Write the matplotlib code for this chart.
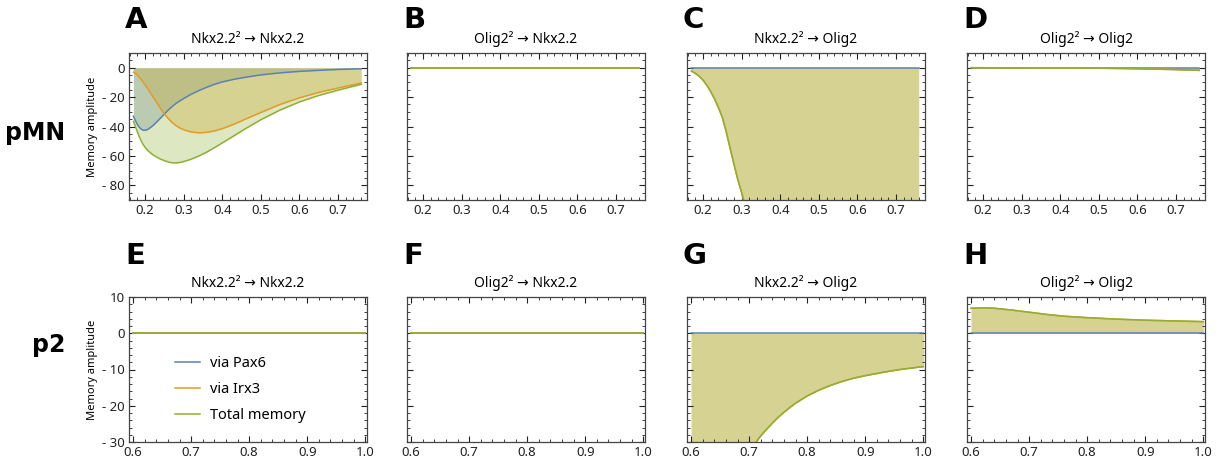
import numpy as np
import matplotlib
matplotlib.use("Agg")
import matplotlib.pyplot as plt
from matplotlib.ticker import FixedLocator, MultipleLocator, FuncFormatter

plt.rcParams['font.family'] = ['Noto Sans', 'DejaVu Sans']

## colours (Mathematica default palette)
c_pax6 = '#5e81b5'
c_irx3 = '#e19c24'
c_total = '#8fb032'

labels = ['via Pax6', 'via Irx3', 'Total memory']
titles = ['Nkx2.2² → Nkx2.2', 'Olig2² → Nkx2.2', 'Nkx2.2² → Olig2', 'Olig2² → Olig2']
letters_top = ['A', 'B', 'C', 'D']
letters_bot = ['E', 'F', 'G', 'H']

## pMN row
# A
xa = [0.17, 0.175, 0.18, 0.185, 0.19, 0.195, 0.20, 0.205, 0.21, 0.22, 0.23, 0.24,
      0.25, 0.26, 0.27, 0.28, 0.29, 0.30, 0.32, 0.34, 0.36, 0.38, 0.40, 0.43,
      0.46, 0.50, 0.55, 0.60, 0.65, 0.70, 0.76]
a_pax6 = [-33, -36, -38.5, -40.5, -41.8, -42.5, -42.6, -42.2, -41.5, -39.5, -37, -34.3,
          -31.5, -28.8, -26.5, -24.3, -22.6, -21, -18, -15.5, -13.3, -11.3, -9.7, -7.9,
          -6.5, -4.9, -3.5, -2.5, -1.8, -1.2, -0.7]
a_irx3 = [-3, -3.9, -5, -6.3, -8, -9.7, -11.5, -13.5, -15.5, -19.5, -23.5, -27.6,
          -31.5, -34.5, -37.2, -39.4, -41, -42.2, -43.8, -44.3, -44, -43, -41.5, -38.5,
          -35, -30.5, -25, -20.5, -16.8, -13.8, -10.5]
a_total = [-36.5, -40, -43.5, -46.8, -49.8, -52.2, -54.1, -55.7, -57, -59.2, -60.8, -62.2,
           -63.2, -64.1, -64.7, -64.8, -64.5, -63.9, -62.2, -60, -57.4, -54.4, -51.2, -46.4,
           -41.5, -35.4, -28.8, -23.3, -18.9, -15.3, -11.3]
# B
xb = [0.17, 0.76]
b_pax6 = [0, 0]
b_irx3 = [0, 0]
b_total = [0, 0]
# C
xc = [0.17, 0.18, 0.19, 0.20, 0.21, 0.22, 0.23, 0.24, 0.25, 0.26, 0.27, 0.28,
      0.29, 0.30, 0.31, 0.33, 0.40, 0.50, 0.76]
c_pax6_v = [0] * len(xc)
c_total_v = [-2.3, -3.8, -5.8, -8.5, -12, -16.3, -21.3, -27.2, -33.8, -43.5, -54.5,
             -65.5, -76, -85, -95, -120, -200, -300, -500]
c_irx3_v = list(c_total_v)
# D
xd = [0.17, 0.30, 0.40, 0.50, 0.60, 0.65, 0.70, 0.76]
d_pax6 = [0] * len(xd)
d_total = [0, -0.1, -0.2, -0.35, -0.7, -1.0, -1.3, -1.8]
d_irx3 = list(d_total)

## p2 row
xe = [0.6, 1.0]
e_pax6 = [0, 0]
e_irx3 = [0, 0]
e_total = [0, 0]
xf = [0.6, 1.0]
f_pax6 = [0, 0]
f_irx3 = [0, 0]
f_total = [0, 0]
# G
xg = [0.60, 0.65, 0.68, 0.70, 0.71, 0.72, 0.73, 0.74, 0.75, 0.76, 0.77, 0.78, 0.80,
      0.82, 0.84, 0.86, 0.88, 0.90, 0.93, 0.96, 1.00]
g_pax6 = [0] * len(xg)
g_total = [-70, -48, -38, -32.5, -30.5, -28.3, -26.5, -24.8, -23.2, -21.8, -20.5,
           -19.3, -17.3, -15.7, -14.4, -13.3, -12.4, -11.7, -10.8, -10.0, -9.2]
g_irx3 = list(g_total)
# H
xh = [0.60, 0.62, 0.64, 0.67, 0.70, 0.73, 0.76, 0.80, 0.85, 0.90, 0.95, 1.00]
h_pax6 = [0] * len(xh)
h_total = [6.9, 7.0, 6.9, 6.4, 5.8, 5.2, 4.7, 4.3, 3.9, 3.6, 3.4, 3.2]
h_irx3 = list(h_total)

top_data = [(xa, a_pax6, a_irx3, a_total), (xb, b_pax6, b_irx3, b_total),
            (xc, c_pax6_v, c_irx3_v, c_total_v), (xd, d_pax6, d_irx3, d_total)]
bot_data = [(xe, e_pax6, e_irx3, e_total), (xf, f_pax6, f_irx3, f_total),
            (xg, g_pax6, g_irx3, g_total), (xh, h_pax6, h_irx3, h_total)]

W, H = 1225, 459
lefts = [129, 407, 687, 967]
ax_w = 238


def minus_fmt(v, pos):
    if abs(v) < 1e-9:
        return '0'
    if v < 0:
        return '- %g' % abs(v)
    return '%g' % v


def draw(ax, x, p, i, t):
    lines = []
    for y, c in ((p, c_pax6), (i, c_irx3), (t, c_total)):
        ax.fill_between(x, 0, y, color=c, alpha=0.3, lw=0)
    for y, c in ((p, c_pax6), (i, c_irx3), (t, c_total)):
        l, = ax.plot(x, y, color=c, lw=1.1)
        lines.append(l)
    return lines


def style(ax):
    ax.tick_params(which='both', direction='in', top=True, right=True,
                   labelsize=9.5, pad=3, colors='#222222')
    ax.tick_params(which='major', length=4, width=0.8)
    ax.tick_params(which='minor', length=2, width=0.6)
    for s in ax.spines.values():
        s.set_color('#444444')
        s.set_linewidth(0.9)


fig = plt.figure(figsize=(W / 100, H / 100), dpi=100)

for k in range(4):
    # top row
    ax = fig.add_axes([lefts[k] / W, 1 - 200 / H, ax_w / W, 147 / H])
    draw(ax, *top_data[k])
    ax.set_xlim(0.1585, 0.775)
    ax.set_ylim(-90, 10)
    ax.xaxis.set_major_locator(FixedLocator([0.2, 0.3, 0.4, 0.5, 0.6, 0.7]))
    ax.xaxis.set_minor_locator(MultipleLocator(0.02))
    ax.yaxis.set_major_locator(FixedLocator([0, -20, -40, -60, -80]))
    ax.yaxis.set_minor_locator(MultipleLocator(5))
    ax.yaxis.set_major_formatter(FuncFormatter(minus_fmt))
    style(ax)
    if k == 0:
        ax.set_ylabel('Memory amplitude', fontsize=8, labelpad=3)
    else:
        ax.tick_params(labelleft=False)
    ax.set_title(titles[k], fontsize=10, pad=7)
    fig.text((lefts[k] - 4) / W, 1 - 20 / H, letters_top[k], fontsize=21,
             fontweight='bold', ha='left', va='center', family='DejaVu Sans')

    # bottom row
    ax = fig.add_axes([lefts[k] / W, 1 - 442 / H, ax_w / W, 145 / H])
    lines = draw(ax, *bot_data[k])
    ax.set_xlim(0.593, 1.003)
    ax.set_ylim(-30, 10)
    ax.xaxis.set_major_locator(FixedLocator([0.6, 0.7, 0.8, 0.9, 1.0]))
    ax.xaxis.set_minor_locator(MultipleLocator(0.02))
    ax.xaxis.set_major_formatter(FuncFormatter(lambda v, p: '%.1f' % v))
    ax.yaxis.set_major_locator(MultipleLocator(10))
    ax.yaxis.set_minor_locator(MultipleLocator(2))
    ax.yaxis.set_major_formatter(FuncFormatter(minus_fmt))
    style(ax)
    if k == 0:
        ax.set_ylabel('Memory amplitude', fontsize=8, labelpad=3)
        ax.legend(lines, labels, loc='upper left', bbox_to_anchor=(0.14, 0.685),
                  frameon=False, fontsize=10.5, handlelength=1.7, handletextpad=0.7,
                  labelspacing=0.75)
    else:
        ax.tick_params(labelleft=False)
    ax.set_title(titles[k], fontsize=10, pad=7)
    fig.text((lefts[k] - 4) / W, 1 - 256 / H, letters_bot[k], fontsize=21,
             fontweight='bold', ha='left', va='center', family='DejaVu Sans')

fig.text(65 / W, 1 - 133 / H, 'pMN', fontsize=17, fontweight='bold',
         ha='right', va='center', family='DejaVu Sans')
fig.text(65 / W, 1 - 345 / H, 'p2', fontsize=17, fontweight='bold',
         ha='right', va='center', family='DejaVu Sans')

fig.savefig('out.png', dpi=100)
